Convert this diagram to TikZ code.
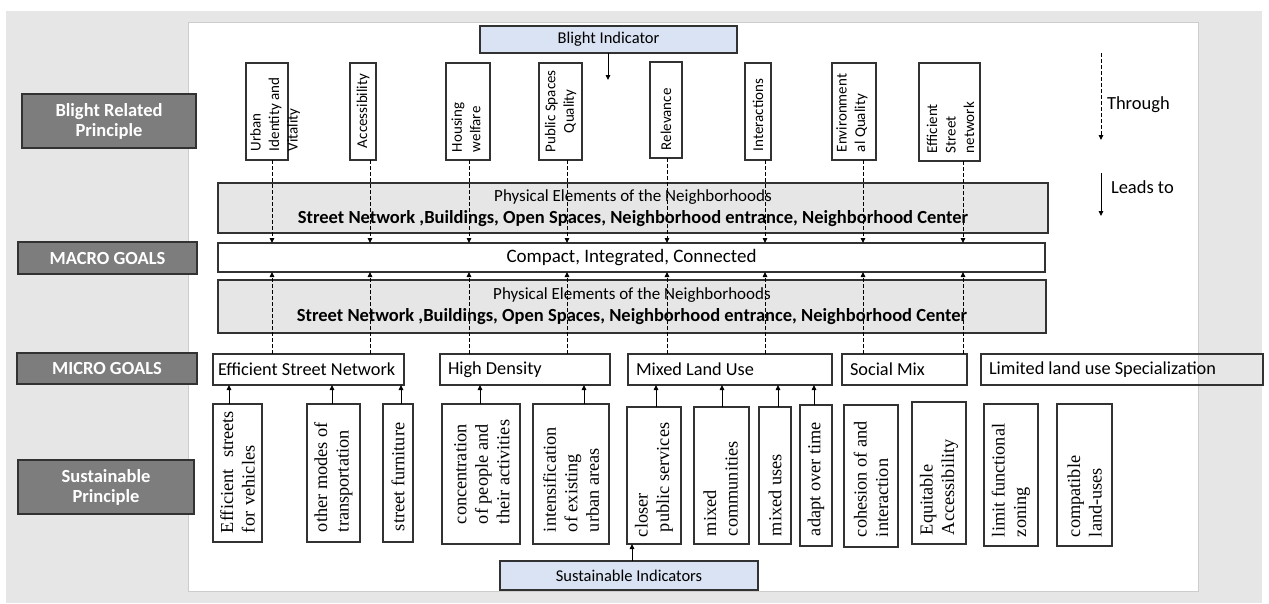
\documentclass[tikz,border=0pt]{standalone}
\usepackage{fontspec}
\setmainfont{Carlito}
\newfontfamily\bserif{Liberation Serif}
\usetikzlibrary{arrows.meta,calc}
\definecolor{bggray}{RGB}{230,230,230}
\definecolor{bandgray}{RGB}{231,230,230}
\definecolor{lblgray}{RGB}{125,125,125}
\definecolor{bluebox}{RGB}{218,227,243}
\definecolor{edge}{RGB}{50,50,50}
\definecolor{paneledge}{RGB}{205,205,205}
\newcommand{\bx}[7]{\node[#6, minimum width={(#4-#2)*1pt}, minimum height={(#5-#3)*1pt}] (#1) at ({(#2+#4)/2},{(#3+#5)/2}) {#7};}
\begin{document}
\begin{tikzpicture}[x=1pt,y=-1pt,
  every node/.style={inner sep=0pt,outer sep=0pt},
  lbl/.style={draw=edge,fill=lblgray,line width=1.2pt,text=white,align=center,font=\fontsize{18.5}{20}\selectfont\bfseries},
  blu/.style={draw=edge,fill=bluebox,line width=1.2pt,font=\fontsize{16.5}{20}\selectfont},
  vbox/.style={draw=edge,line width=1.1pt},
  band/.style={draw=edge,fill=bandgray,line width=1.1pt,align=center,font=\fontsize{17}{22}\selectfont},
  wband/.style={draw=edge,fill=white,line width=1.1pt,font=\fontsize{19}{22}\selectfont},
  goal/.style={draw=edge,line width=1.1pt},
  gtxt/.style={font=\fontsize{18.3}{22}\selectfont},
  legtxt/.style={anchor=west,font=\fontsize{18.5}{22}\selectfont},
  ttxt/.style={rotate=90,anchor=west,align=left,font=\fontsize{15}{18.5}\selectfont},
  stxt/.style={rotate=90,anchor=west,align=left,font=\bserif\fontsize{18.3}{21.5}\selectfont},
  dlink/.style={draw=black,line width=0.9pt,dash pattern=on 4pt off 2pt,-{Triangle[length=5pt,width=4.5pt]}},
  slink/.style={draw=black,line width=0.9pt,-{Triangle[length=5pt,width=4.5pt]}}
]
\useasboundingbox (0,0) rectangle (1269,603);
% background and panel
\fill[bggray] (6,11) rectangle (1262,603);
\draw[paneledge,fill=white,line width=0.8pt] (188,22) rectangle (1198,591);

% left labels
\bx{lbr}{22}{94}{196}{148}{lbl}{Blight Related\\Principle}
\bx{lma}{18}{242}{197}{274}{lbl}{MACRO GOALS}
\bx{lmi}{17}{353}{197}{384}{lbl}{MICRO GOALS}
\bx{lsp}{18}{460}{194}{514}{lbl}{Sustainable\\Principle}

% blight indicator
\bx{bi}{480}{26}{737}{53}{blu}{Blight Indicator}
\coordinate (biend) at (608,80);
\draw[slink] (bi.south -| biend) -- (biend);

% connector columns
\coordinate (l1) at (272,0);
\coordinate (l2) at (370,0);
\coordinate (l3) at (469,0);
\coordinate (l4) at (567,0);
\coordinate (l5) at (667,0);
\coordinate (l6) at (765,0);
\coordinate (l7) at (863,0);
\coordinate (l8) at (963,0);

% top principle boxes
\bx{u1}{246}{63}{288}{160}{vbox}{}
\bx{u2}{350}{63}{376}{160}{vbox}{}
\bx{u3}{446}{63}{490}{160}{vbox}{}
\bx{u4}{539}{63}{582}{160}{vbox}{}
\bx{u5}{650}{62}{682}{158}{vbox}{}
\bx{u6}{745}{63}{771}{160}{vbox}{}
\bx{u7}{832}{63}{876}{160}{vbox}{}
\bx{u8}{919}{63}{980}{161}{vbox}{}
\node[ttxt] (u1t) at ($(u1.south)+(8,-9)$) {Urban\\Identity and\\Vitality};
\node[ttxt] (u2t) at ($(u2.south)+(0,-12)$) {Accessibility};
\node[ttxt] (u3t) at ($(u3.south)+(-2,-8)$) {Housing\\welfare};
\node[ttxt,align=center] (u4t) at ($(u4.south)+(0,-8)$) {Public Spaces\\Quality};
\node[ttxt] (u5t) at ($(u5.south)+(0,-8)$) {Relevance};
\node[ttxt] (u6t) at ($(u6.south)+(0,-9)$) {Interactions};
\node[ttxt] (u7t) at ($(u7.south)+(-2,-8)$) {Environment\\al Quality};
\node[ttxt] (u8t) at ($(u8.south)+(1,-8)$) {Efficient\\Street\\network};

% bands
\node[band,minimum width=830pt,minimum height=50pt] (pe1) at (633,208)
  {Physical Elements of the Neighborhoods\\
   {\fontsize{18.5}{22}\selectfont\bfseries Street Network ,Buildings, Open Spaces, Neighborhood entrance, Neighborhood Center}};
\bx{cmp}{218}{243}{1045}{272}{wband}{Compact, Integrated, Connected}
\node[band,minimum width=828pt,minimum height=53pt] (pe2) at (632,306.5)
  {Physical Elements of the Neighborhoods\\
   {\fontsize{18.5}{22}\selectfont\bfseries Street Network ,Buildings, Open Spaces, Neighborhood entrance, Neighborhood Center}};

% micro goals
\bx{esn}{213}{354}{404}{385}{goal}{}
\bx{hd}{440}{354}{610}{385}{goal}{}
\bx{mlu}{628}{354}{832}{385}{goal}{}
\bx{sm}{842}{354}{967}{385}{goal}{}
\bx{lim}{981}{354}{1263}{385}{goal}{}
\node[gtxt,anchor=west] (esnt) at ($(esn.west)+(5,0)$) {Efficient Street Network};
\node[gtxt,anchor=west] (hdt) at ($(hd.west)+(8,0)$) {High Density};
\node[gtxt,anchor=west] (mlut) at ($(mlu.west)+(8,0)$) {Mixed Land Use};
\node[gtxt,anchor=west] (smt) at ($(sm.west)+(8,0)$) {Social Mix};
\node[gtxt,anchor=west] (limt) at ($(lim.west)+(8,0)$) {Limited land use Specialization};

% dashed connectors: top principles -> macro goals
\foreach \u/\l in {u1/l1,u2/l2,u3/l3,u4/l4,u5/l5,u6/l6,u7/l7,u8/l8}
  \draw[dlink] (\u.south -| \l) -- (cmp.north -| \l);
% dashed connectors: micro goals -> macro goals
\foreach \g/\l in {esn/l1,esn/l2,hd/l3,hd/l4,mlu/l5,mlu/l6,sm/l7,sm/l8}
  \draw[dlink] (\g.north -| \l) -- (cmp.south -| \l);

% sustainable principle boxes
\bx{s1}{213}{404}{262}{542}{vbox}{}
\bx{s2}{307}{404}{360}{542}{vbox}{}
\bx{s3}{383}{404}{413}{542}{vbox}{}
\bx{s4}{442}{404}{520}{544}{vbox}{}
\bx{s5}{533}{404}{609}{544}{vbox}{}
\bx{s6}{627}{407}{681}{544}{vbox}{}
\bx{s7}{694}{407}{749}{544}{vbox}{}
\bx{s8}{759}{407}{791}{544}{vbox}{}
\bx{s9}{800}{405}{832}{546}{vbox}{}
\bx{s10}{844}{405}{898}{547}{vbox}{}
\bx{s11}{912}{402}{966}{544}{vbox}{}
\bx{s12}{984}{404}{1038}{546}{vbox}{}
\bx{s13}{1057}{404}{1112}{546}{vbox}{}
\node[stxt,text width=122pt] (s1t) at ($(s1.south)+(0,-9)$) {Efficient\hfill streets\\for vehicles};
\node[stxt] (s2t) at ($(s2.south)+(0,-10)$) {other modes of\\transportation};
\node[stxt] (s3t) at ($(s3.south)+(0,-11)$) {street furniture};
\node[stxt] (s4t) at ($(s4.south)+(1,-20)$) {concentration\\of people and\\their activities};
\node[stxt] (s5t) at ($(s5.south)+(0,-12)$) {intensification\\of existing\\urban areas};
\node[stxt] (s6t) at ($(s6.south)+(0,-7)$) {closer\\\hspace*{5pt}public services};
\node[stxt] (s7t) at ($(s7.south)+(-1,-8)$) {mixed\\communities};
\node[stxt] (s8t) at ($(s8.south)+(0,-8)$) {mixed uses};
\node[stxt] (s9t) at ($(s9.south)+(0,-10)$) {adapt over time};
\node[stxt] (s10t) at ($(s10.south)+(0,-10)$) {cohesion of and\\interaction};
\node[stxt] (s11t) at ($(s11.south)+(0,-9)$) {Equitable\\Accessibility};
\node[stxt] (s12t) at ($(s12.south)+(0,-9)$) {limit functional\\zoning};
\node[stxt] (s13t) at ($(s13.south)+(0,-9)$) {compatible\\land-uses};

% solid connectors: sustainable principles -> micro goals
\coordinate (c1) at (229,0);
\coordinate (c2) at (332,0);
\coordinate (c3) at (401,0);
\coordinate (c4) at (480,0);
\coordinate (c5) at (584,0);
\coordinate (c6) at (656,0);
\coordinate (c7) at (722,0);
\coordinate (c8) at (778,0);
\coordinate (c9) at (814,0);
\coordinate (c10) at (632,0);
\foreach \s/\g/\c in {s1/esn/c1,s2/esn/c2,s3/esn/c3,s4/hd/c4,s5/hd/c5,s6/mlu/c6,s7/mlu/c7,s8/mlu/c8,s9/mlu/c9}
  \draw[slink] (\s.north -| \c) -- (\g.south -| \c);

% sustainable indicators
\bx{si}{500}{561}{758}{590}{blu}{Sustainable Indicators}
\draw[slink] (si.north -| c10) -- (s6.south -| c10);

% legend
\coordinate (th1) at (1101,53);
\coordinate (th2) at (1101,140);
\draw[dlink] (th1) -- (th2);
\node[legtxt] (thr) at (1107,105) {Through};
\coordinate (ld1) at (1101,173);
\coordinate (ld2) at (1101,216);
\draw[slink] (ld1) -- (ld2);
\node[legtxt] (lds) at (1111,187) {Leads to};
\end{tikzpicture}
\end{document}
